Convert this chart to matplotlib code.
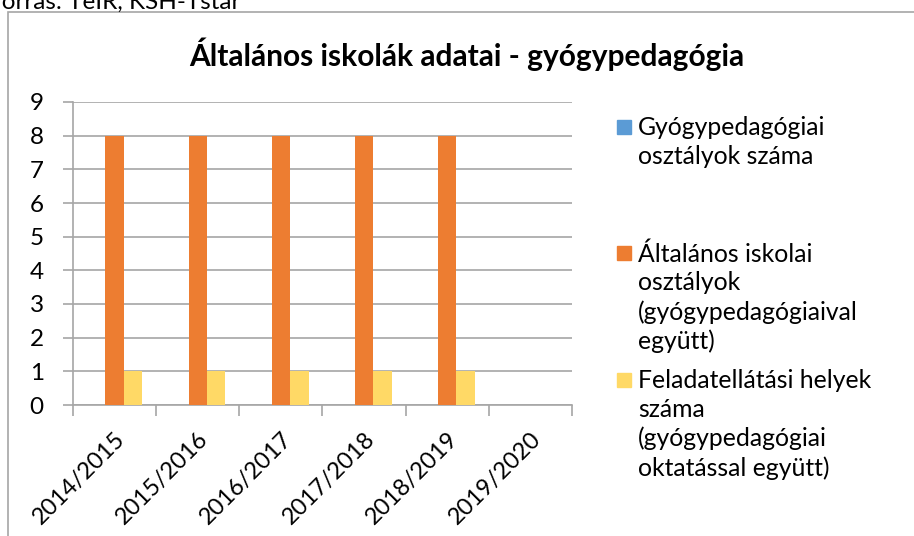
import numpy as np
import matplotlib
matplotlib.use("Agg")
import matplotlib.pyplot as plt
from matplotlib.patches import Rectangle

# adatok
tanevek = ["2014/2015", "2015/2016", "2016/2017", "2017/2018", "2018/2019", "2019/2020"]
gyogy_osztalyok = [0, 0, 0, 0, 0, 0]
altalanos_osztalyok = [8, 8, 8, 8, 8, 0]
feladatellatasi_helyek = [1, 1, 1, 1, 1, 0]

sorozat_nevek = [
    "Gyógypedagógiai\nosztályok száma",
    "Általános iskolai\nosztályok\n(gyógypedagógiaival\negyütt)",
    "Feladatellátási helyek\nszáma\n(gyógypedagógiai\noktatással együtt)",
]
szinek = ["#5B9BD5", "#ED7D31", "#FFD966"]
cim = "Általános iskolák adatai - gyógypedagógia"
forras = "Forrás: TeIR, KSH-Tstar"

plt.rcParams["font.family"] = ["Lato", "DejaVu Sans"]

W, H = 914, 536
fig = plt.figure(figsize=(W / 100, H / 100), dpi=100)


def fx(px):
    return px / W


def fy(py):
    return 1 - py / H


# diagram kerete
fig.patches.append(Rectangle((fx(8), fy(600)), fx(1000), fy(12) - fy(600),
                             transform=fig.transFigure, fill=False,
                             edgecolor="#A6A6A6", linewidth=1.2))
fig.text(fx(-12), fy(9), forras, fontsize=17.5, va="baseline", ha="left")

ax = fig.add_axes([fx(73), fy(405), fx(572) - fx(73), fy(102) - fy(405)])

x = np.arange(len(tanevek))
w = 1 / 4.5
for i, adat in enumerate([gyogy_osztalyok, altalanos_osztalyok, feladatellatasi_helyek]):
    ax.bar(x + (i - 1) * w, adat, width=w, color=szinek[i], zorder=3)

ax.set_xlim(-0.5, len(tanevek) - 0.5)
ax.set_ylim(0, 9)
ax.set_yticks(range(10))
ax.yaxis.grid(True, color="#A6A6A6", linewidth=1.2, zorder=0)
ax.tick_params(axis="y", length=7, color="#A6A6A6", width=1.2, labelsize=17.5, pad=14)

ax.set_xticks(np.arange(len(tanevek) + 1) - 0.5)
ax.set_xticklabels([])
ax.set_xticks(x, minor=True)
ax.set_xticklabels(tanevek, minor=True, rotation=45, ha="right",
                   rotation_mode="anchor", fontsize=17)
ax.tick_params(axis="x", which="major", length=8, color="#A6A6A6", width=1.2)
ax.tick_params(axis="x", which="minor", length=0, pad=17)

for s in ["top", "right"]:
    ax.spines[s].set_visible(False)
for s in ["left", "bottom"]:
    ax.spines[s].set_color("#A6A6A6")
    ax.spines[s].set_linewidth(1.2)

fig.text(fx(467), fy(54), cim, fontsize=21.5, fontweight="bold", ha="center", va="center")

# jelmagyarazat
leg_y = [127, 253, 380]
for nev, szin, y in zip(sorozat_nevek, szinek, leg_y):
    fig.patches.append(Rectangle((fx(617), fy(y + 7)), fx(14), fy(0) - fy(14),
                                 transform=fig.transFigure, color=szin))
    fig.text(fx(638), fy(y - 11), nev, fontsize=17.8, ha="left", va="top",
             linespacing=1.3)

fig.savefig("out.png", dpi=100)
